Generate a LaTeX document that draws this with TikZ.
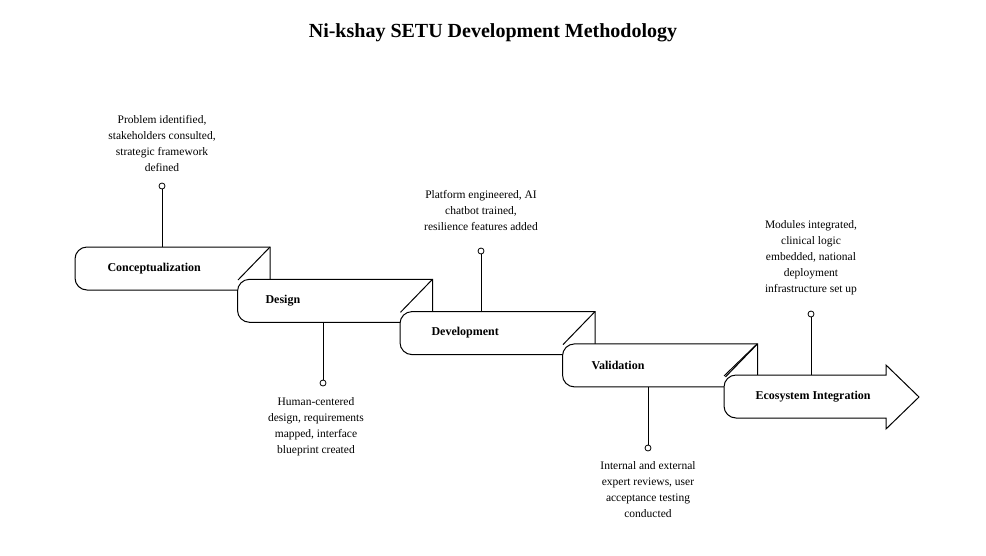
\documentclass[tikz,border=0pt]{standalone}
\usepackage{fontspec}
\setmainfont{Liberation Serif}
\begin{document}
\begin{tikzpicture}[x=1pt,y=-1pt,
  stepbox/.style={draw,line width=1pt,fill=white},
  lbl/.style={font=\fontsize{12}{15}\selectfont\bfseries,anchor=west},
  note/.style={font=\fontsize{11.5}{16}\selectfont,align=center},
  stem/.style={draw,line width=0.9pt},
  dot/.style={circle,draw,line width=0.8pt,fill=white,inner sep=0pt,minimum size=6pt}]
\useasboundingbox (0,0) rectangle (986,555);
\node[font=\fontsize{20}{24}\selectfont\bfseries] (title) at (493,33) {Ni-kshay SETU Development Methodology};
% steps
\foreach \i in {0,1,2,3}{
  \pgfmathsetmacro\xl{75+162.5*\i}
  \pgfmathsetmacro\yt{247+32.3*\i}
  \draw[stepbox] (\xl+12,\yt) -- (\xl+195,\yt) -- (\xl+195,\yt+43) -- (\xl+12,\yt+43)
     arc[start angle=90,end angle=180,radius=12] -- (\xl,\yt+12) arc[start angle=180,end angle=270,radius=12] -- cycle;
}
\foreach \i in {0,1,2,3}{
  \pgfmathsetmacro\xl{75+162.5*\i}
  \pgfmathsetmacro\yt{247+32.3*\i}
  \draw[line width=1pt] (\xl+195,\yt) -- (\xl+163,\yt+33);
}
\draw[stepbox] (736,375) -- (886,375) -- (886,365) -- (919,397) -- (886,429) -- (886,418) -- (736,418)
   arc[start angle=90,end angle=180,radius=12] -- (724,387) arc[start angle=180,end angle=270,radius=12] -- cycle;
\draw[line width=1pt] (757,344) -- (724,376);
\draw[line width=1pt] (757,344) -- (757,375);
\node[lbl] (c) at (104,269) {Conceptualization};
\node[lbl] (d) at (262,301) {Design};
\node[lbl] (dv) at (428,333) {Development};
\node[lbl] (v) at (588,365) {Validation};
\node[lbl] (e) at (752,397) {Ecosystem Integration};
% stems
\coordinate (t1) at (162,247); \node[dot] (p1) at (162,186) {};
\coordinate (t2) at (323,322); \node[dot] (p2) at (323,383) {};
\coordinate (t3) at (481,312); \node[dot] (p3) at (481,251) {};
\coordinate (t4) at (648,387); \node[dot] (p4) at (648,448) {};
\coordinate (t5) at (811,375); \node[dot] (p5) at (811,314) {};
\foreach \a/\b in {t1/p1,t2/p2,t3/p3,t4/p4,t5/p5} \draw[stem] (\a) -- (\b);
\node[note,anchor=south] (n1) at (162,175) {Problem identified,\\stakeholders consulted,\\strategic framework\\defined};
\node[note,anchor=north] (n2) at (316,394) {Human-centered\\design, requirements\\mapped, interface\\blueprint created};
\node[note,anchor=south] (n3) at (481,234) {Platform engineered, AI\\chatbot trained,\\resilience features added};
\node[note,anchor=north] (n4) at (648,458) {Internal and external\\expert reviews, user\\acceptance testing\\conducted};
\node[note,anchor=south] (n5) at (811,298) {Modules integrated,\\clinical logic\\embedded, national\\deployment\\infrastructure set up};
\end{tikzpicture}
\end{document}
